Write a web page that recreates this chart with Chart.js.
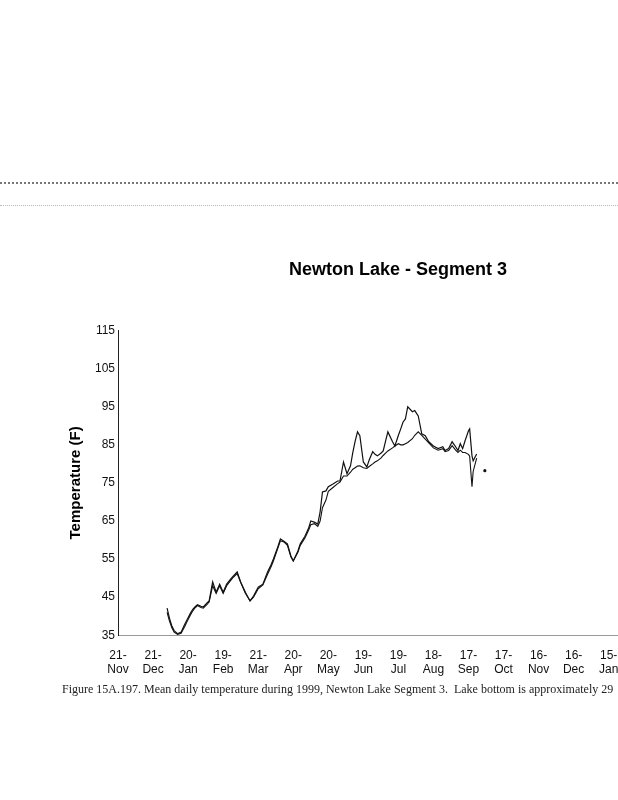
<!DOCTYPE html>
<html>
<head>
<meta charset="utf-8">
<script src="https://cdn.jsdelivr.net/npm/chart.js@4.4.1/dist/chart.umd.min.js"></script>
<style>
  html, body { margin: 0; padding: 0; background: #fff; overflow: hidden; }
  #page { position: relative; width: 618px; height: 800px; overflow: hidden; }
  #wrap { position: absolute; left: 0; top: 0; width: 748px; height: 800px; }
  .rule { position: absolute; left: 0; width: 618px; }
  #caption {
    position: absolute; left: 62px; top: 682px; white-space: nowrap;
    font-family: "Liberation Serif", "DejaVu Serif", serif; font-size: 12px; color: #222;
  }
</style>
</head>
<body>
<div id="page">
  <div class="rule" style="top:182px;border-top:2px dotted #777;"></div>
  <div class="rule" style="top:205px;border-top:1px dotted #bbb;"></div>
  <div id="wrap"><canvas id="tempChart" width="748" height="800"></canvas></div>
  <div id="caption">Figure 15A.197. Mean daily temperature during 1999, Newton Lake Segment 3.&nbsp; Lake bottom is approximately 29</div>
</div>
<script>
// x axis: days counted from 21-Nov-1998, one tick every 30 days
const tickLabels = [
  ['21-', 'Nov'], ['21-', 'Dec'], ['20-', 'Jan'], ['19-', 'Feb'], ['21-', 'Mar'],
  ['20-', 'Apr'], ['20-', 'May'], ['19-', 'Jun'], ['19-', 'Jul'], ['18-', 'Aug'],
  ['17-', 'Sep'], ['17-', 'Oct'], ['16-', 'Nov'], ['16-', 'Dec'], ['15-', 'Jan']
];
const tickStep = 30;
const daysBefore1999 = 40; // 21-Nov-1998 .. 31-Dec-1998

// day of year 1999 for each reading
const dayOfYear = [
  2, 4, 6, 8, 11, 14, 17, 19, 22, 24, 26, 28, 31, 33, 36, 38, 41, 44, 47, 50,
  53, 56, 58, 62, 65, 69, 73, 76, 80, 84, 88, 91, 93, 97, 99, 102, 105, 108, 110, 114,
  116, 120, 123, 125, 128, 131, 133, 135, 138, 140, 144, 148, 150, 153, 156, 159, 161, 163, 165, 167,
  170, 173, 175, 178, 180, 182, 185, 187, 189, 191, 195, 197, 200, 202, 204, 206, 208, 212, 214, 217,
  220, 223, 226, 230, 234, 238, 240, 243, 246, 249, 251, 253, 255, 257, 260, 261, 263, 264, 267, 271,
  274
];
const upperTemp = [
  42.1, 39.5, 37.5, 36.2, 35.4, 35.8, 37.8, 39, 40.8, 41.8, 42.5, 43, 42.6, 42.4, 43.4, 44, 49, 46.3, 48.4, 46.3,
  48.4, 49.6, 50.3, 51.6, 49, 46.3, 44, 45.3, 47.6, 48.4, 51.6, 53.5, 55, 58.4, 60.3, 59.7, 59, 55.8, 54.5, 57.1,
  59, 61, 63, 65, 64.7, 64.2, 67.4, 72.6, 72.9, 74, 74.7, 75.5, 75.5, 80.5, 77.4, 79.5, 83, 86, 88.4, 87.4,
  80.5, 79.2, 81, 83.2, 82.5, 82.1, 82.8, 83.4, 86, 88.4, 85.8, 84.7, 87.5, 89.2, 91, 91.8, 95, 93.7, 94, 92.6,
  87.9, 87.4, 85.8, 84.7, 84, 84.5, 83.5, 84, 85.8, 84.5, 83.5, 85.3, 84, 86, 88.7, 89.2, 82.1, 80.8, 82.6, null,
  78.2
];
const lowerTemp = [
  41, 38.8, 37, 35.8, 35.2, 35.5, 37.2, 38.5, 40.3, 41.4, 42.2, 42.8, 42.3, 42.1, 43, 43.7, 48, 46, 48, 46,
  48, 49.2, 50, 51.2, 48.8, 46, 44, 45, 47.2, 48.2, 51, 53, 54.5, 58, 59.8, 59.5, 58.6, 55.5, 54.5, 56.8,
  58.6, 60.5, 62.5, 64, 64.3, 63.6, 65, 68.5, 70.5, 72.8, 73.8, 74.8, 75.2, 76.8, 76.8, 77.8, 78.6, 79, 79.4, 79.5,
  79, 78.8, 79.3, 80, 80.5, 80.8, 81.5, 82.2, 82.8, 83.4, 84.2, 84.7, 85.3, 85, 85, 85.3, 85.6, 86.6, 87.5, 88.4,
  87.5, 86.5, 85.5, 84.2, 83.6, 84, 83.2, 83.5, 84.8, 83.6, 83, 83.6, 83, 83, 82.5, 82, 74, 78, 81.5, null,
  null
];

const toPoints = vals => vals.map((v, i) => ({ x: dayOfYear[i] + daysBefore1999, y: v }));

// show a dot only for a reading with no neighbours to join
const loneDot = ctx => {
  const d = ctx.dataset.data, i = ctx.dataIndex;
  const prev = i > 0 ? d[i - 1].y : null, next = i < d.length - 1 ? d[i + 1].y : null;
  return (d[i].y !== null && prev === null && next === null) ? 1 : 0;
};

new Chart(document.getElementById('tempChart').getContext('2d'), {
  type: 'line',
  data: {
    datasets: [{
      label: 'Upper',
      data: toPoints(upperTemp),
      borderColor: '#111',
      backgroundColor: '#111',
      borderWidth: 1.2,
      pointRadius: loneDot,
      tension: 0,
      spanGaps: false
    }, {
      label: 'Lower',
      data: toPoints(lowerTemp),
      borderColor: '#111',
      backgroundColor: '#111',
      borderWidth: 1.1,
      pointRadius: 0,
      tension: 0,
      spanGaps: false
    }]
  },
  options: {
    responsive: false,
    animation: false,
    layout: { padding: { top: 255, left: 67, right: 19, bottom: 110 } },
    plugins: {
      legend: { display: false },
      tooltip: { enabled: false },
      title: {
        display: true,
        text: 'Newton Lake - Segment 3',
        color: '#000',
        font: { family: 'Liberation Sans, Arial, sans-serif', size: 18, weight: 'bold' },
        padding: { top: 4, bottom: 50 }
      }
    },
    scales: {
      x: {
        type: 'linear',
        min: 0,
        max: 523,
        afterBuildTicks: scale => {
          scale.ticks = tickLabels.map((_, i) => ({ value: i * tickStep }));
        },
        grid: { display: false, tickLength: 0 },
        border: { display: true, color: '#999', dash: [4, 5] },
        ticks: {
          color: '#111',
          padding: 13,
          maxRotation: 0,
          autoSkip: false,
          font: { family: 'Liberation Sans, Arial, sans-serif', size: 12 },
          callback: v => tickLabels[Math.round(v / tickStep)]
        }
      },
      y: {
        min: 35,
        max: 115,
        grid: { display: false, tickLength: 0 },
        border: { display: true, color: '#222', width: 1 },
        ticks: {
          stepSize: 10,
          color: '#111',
          padding: 3,
          font: { family: 'Liberation Sans, Arial, sans-serif', size: 12 }
        },
        title: {
          display: true,
          text: 'Temperature (F)',
          color: '#000',
          font: { family: 'Liberation Sans, Arial, sans-serif', size: 15, weight: 'bold' },
          padding: { top: 0, bottom: 7 }
        }
      }
    }
  }
});
</script>
</body>
</html>
